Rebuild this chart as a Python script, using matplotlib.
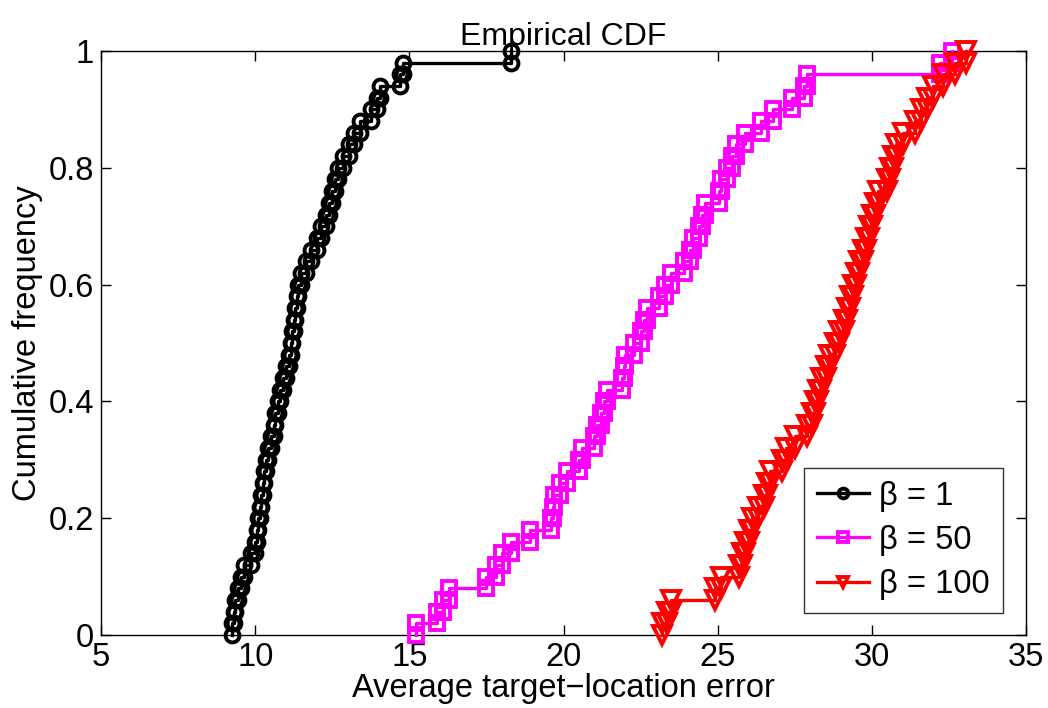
import numpy as np
import matplotlib
matplotlib.use('Agg')
import matplotlib.pyplot as plt

plt.rcParams['font.family'] = ['Liberation Sans', 'DejaVu Sans']

# sorted sample values (50 samples each)
beta1 = [9.25, 9.3, 9.35, 9.45, 9.55, 9.65, 9.85, 10.0, 10.05, 10.1,
         10.15, 10.2, 10.25, 10.3, 10.35, 10.4, 10.5, 10.6, 10.65, 10.75,
         10.8, 10.9, 11.0, 11.1, 11.15, 11.2, 11.25, 11.3, 11.35, 11.4,
         11.5, 11.65, 11.8, 12.0, 12.15, 12.3, 12.4, 12.5, 12.6, 12.7,
         12.85, 13.05, 13.2, 13.4, 13.75, 13.95, 14.05, 14.7, 14.8, 18.3]
beta50 = [15.2, 15.9, 16.1, 16.3, 17.5, 17.8, 18.0, 18.3, 18.9, 19.6,
          19.65, 19.7, 19.9, 20.1, 20.5, 20.6, 21.0, 21.1, 21.2, 21.3,
          21.4, 21.9, 21.95, 22.0, 22.3, 22.5, 22.6, 22.7, 23.1, 23.3,
          23.5, 23.9, 24.1, 24.2, 24.4, 24.5, 24.6, 25.05, 25.1, 25.3,
          25.45, 25.6, 25.9, 26.4, 26.8, 27.4, 27.8, 27.9, 32.2, 32.6]
beta100 = [23.2, 23.35, 23.5, 24.9, 25.1, 25.7, 25.8, 25.9, 26.0, 26.1,
           26.3, 26.5, 26.6, 26.7, 27.1, 27.2, 27.5, 27.9, 28.05, 28.15,
           28.25, 28.35, 28.5, 28.6, 28.8, 28.95, 29.1, 29.2, 29.3, 29.4,
           29.5, 29.6, 29.7, 29.8, 29.9, 30.0, 30.1, 30.2, 30.5, 30.6,
           30.7, 30.8, 31.0, 31.4, 31.6, 31.8, 32.0, 32.3, 32.7, 33.05]

labels = ['β = 1', 'β = 50', 'β = 100']
colors = ['black', '#ff00ff', 'red']
markers = ['o', 's', 'v']
msizes = [10, 10.5, 12.5]


def ecdf_stairs(values):
    # stair vertices like matlab's ecdf/stairs
    v = np.sort(np.asarray(values))
    n = len(v)
    f = np.arange(n + 1) / n
    xs = np.repeat(v, 2)
    ys = np.empty(2 * n)
    ys[0::2] = f[:-1]
    ys[1::2] = f[1:]
    return xs, ys


fig = plt.figure(figsize=(10.48, 7.08), dpi=100)
ax = fig.add_axes([0.0964, 0.1031, 0.8826, 0.8249])

for data, lab, c, m, ms in zip([beta1, beta50, beta100], labels, colors, markers, msizes):
    xs, ys = ecdf_stairs(data)
    ax.plot(xs, ys, color=c, lw=2.4, marker=m, ms=ms, mfc='none',
            mec=c, mew=2.8, label=lab, clip_on=False, zorder=3)

ax.set_xlim(5, 35)
ax.set_ylim(0, 1)
ax.set_xticks([5, 10, 15, 20, 25, 30, 35])
ax.set_yticks([0, 0.2, 0.4, 0.6, 0.8, 1])
ax.set_yticklabels(['0', '0.2', '0.4', '0.6', '0.8', '1'])
ax.tick_params(direction='in', length=7, width=1, labelsize=23.5,
               top=True, right=True, pad=5)
for s in ax.spines.values():
    s.set_linewidth(1)

ax.set_xlabel('Average target\u2212location error', fontsize=23.5, labelpad=0)
ax.set_ylabel('Cumulative frequency', fontsize=23.5, labelpad=4)
ax.set_title('Empirical CDF', fontsize=23, pad=4)

leg = ax.legend(loc='lower right', fontsize=23.5, frameon=True, fancybox=False,
                edgecolor='black', handlelength=1.6, borderpad=0.4,
                labelspacing=0.4, handletextpad=0.3, borderaxespad=0,
                bbox_to_anchor=(0.975, 0.0377))
leg.get_frame().set_linewidth(1)
leg.set_zorder(5)
for h in leg.legend_handles:
    h.set_markersize(7)

fig.savefig('out.png', dpi=100)
